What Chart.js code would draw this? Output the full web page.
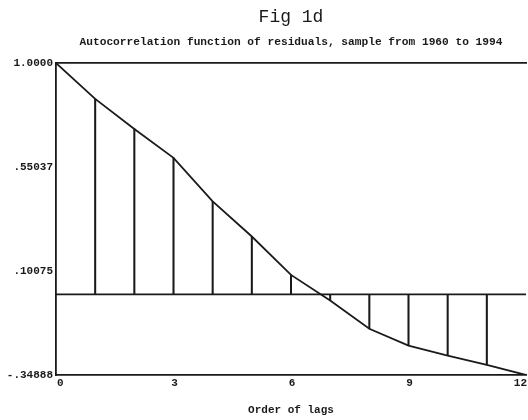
<!DOCTYPE html>
<html>
<head>
<meta charset="utf-8">
<script src="https://cdn.jsdelivr.net/npm/chart.js@4/dist/chart.umd.min.js"></script>
<style>
  body { margin: 0; background: #fff; }
</style>
</head>
<body>
<canvas id="acfChart" width="528" height="420"></canvas>
<script>
// Autocorrelation of residuals by lag
const lags = [0, 1, 2, 3, 4, 5, 6, 7, 8, 9, 10, 11, 12];
const acf = [1.0, 0.845, 0.715, 0.59, 0.402, 0.25, 0.084, -0.027, -0.149, -0.222, -0.265, -0.305, -0.34888];

// Axis ticks
const yTicks = [1.0, 0.55037, 0.10075, -0.34888];
const yTickLabels = ["1.0000", ".55037", ".10075", "-.34888"];
const xTicks = [0, 3, 6, 9, 12];
const xTickLabels = ["0", "3", "6", "9", "12"];

const ink = "#1a1a1a";
const monoBold = { family: "'Liberation Mono', monospace", size: 11, weight: "bold" };

const points = lags.map((lag, i) => ({ x: lag, y: acf[i] }));
const stems = points.slice(1, 12);
const zeroLine = [{ x: lags[0], y: 0 }, { x: lags[lags.length - 1], y: 0 }];

const ctx = document.getElementById("acfChart").getContext("2d");
new Chart(ctx, {
  type: "line",
  data: {
    datasets: [
      {
        type: "bar",
        data: stems,
        backgroundColor: ink,
        barThickness: 1.4,
      },
      {
        data: zeroLine,
        borderColor: ink,
        borderWidth: 1.7,
        pointRadius: 0,
      },
      {
        data: points,
        borderColor: ink,
        borderWidth: 1.8,
        pointRadius: 0,
        tension: 0,
      },
    ],
  },
  options: {
    responsive: false,
    animation: false,
    devicePixelRatio: 1,
    layout: { padding: 0 },
    plugins: {
      legend: { display: false },
      tooltip: { enabled: false },
      title: {
        display: true,
        text: "Fig 1d",
        fullSize: false,
        color: ink,
        font: { family: "'Liberation Mono', monospace", size: 18, weight: "normal" },
        padding: { top: 6, bottom: 4 },
      },
      subtitle: {
        display: true,
        text: "Autocorrelation function of residuals, sample from 1960 to 1994",
        fullSize: false,
        color: ink,
        font: { family: "'Liberation Mono', monospace", size: 11.2, weight: "bold" },
        padding: { top: 4, bottom: 14 },
      },
    },
    scales: {
      x: {
        type: "linear",
        min: 0,
        max: 12,
        offset: false,
        afterBuildTicks: (scale) => {
          scale.ticks = xTicks.map((v) => ({ value: v }));
        },
        afterFit: (scale) => {
          scale.height = 45;
        },
        grid: { display: false, drawTicks: false, offset: false },
        border: { display: true, color: ink, width: 1.8 },
        ticks: {
          align: "inner",
          labelOffset: 1,
          padding: 2,
          color: ink,
          font: monoBold,
          callback: (v) => xTickLabels[xTicks.indexOf(v)],
        },
        title: {
          display: true,
          text: "Order of lags",
          color: ink,
          font: { family: "'Liberation Mono', monospace", size: 11, weight: "bold" },
          padding: { top: 0, bottom: 3 },
        },
      },
      xTop: {
        type: "linear",
        position: "top",
        min: 0,
        max: 12,
        offset: false,
        afterFit: (scale) => {
          scale.height = 0;
        },
        grid: { display: false, drawTicks: false, offset: false },
        border: { display: true, color: ink, width: 1.8 },
        ticks: { display: false },
      },
      y: {
        min: -0.34888,
        max: 1.0,
        afterBuildTicks: (scale) => {
          scale.ticks = yTicks.map((v) => ({ value: v }));
        },
        afterFit: (scale) => {
          scale.width = 56;
        },
        grid: { display: false, drawTicks: false },
        border: { display: true, color: ink, width: 1.8 },
        ticks: {
          padding: 3,
          color: ink,
          font: monoBold,
          callback: (v) => yTickLabels[yTicks.indexOf(v)],
        },
      },
    },
  },
});
</script>
</body>
</html>
